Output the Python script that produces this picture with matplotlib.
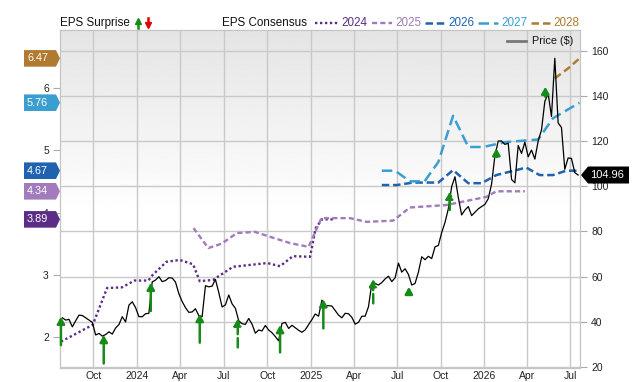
import matplotlib
matplotlib.use('Agg')
import matplotlib.pyplot as plt
import matplotlib.dates as mdates
import numpy as np
import pandas as pd
from matplotlib.lines import Line2D
from matplotlib.patches import Polygon

plt.rcParams['font.family'] = ['Liberation Sans', 'DejaVu Sans']

W, H = 640, 382

# weekly closing price ($)
price_start = '2023-07-28'
price = [41.8, 40.8, 41.1, 37.8, 40.5, 43.0, 42.8, 41.8, 40.8, 39.8,
         34.2, 34.9, 33.7, 34.4, 35.6, 34.6, 37.3, 38.8, 42.3, 40.0,
         47.4, 48.9, 46.3, 42.3, 42.3, 43.6, 43.8, 57.7, 58.5, 60.0,
         57.8, 58.3, 59.5, 59.4, 57.6, 52.5, 49.0, 46.3, 44.2, 44.4,
         45.8, 42.8, 42.3, 56.0, 55.5, 55.8, 58.8, 53.0, 46.6, 47.5,
         51.9, 48.0, 46.0, 40.5, 39.2, 38.9, 41.5, 39.0, 35.0, 36.4,
         36.0, 38.4, 36.4, 35.2, 33.5, 31.6, 39.3, 39.8, 37.1, 38.5,
         37.4, 36.3, 35.4, 36.5, 38.8, 41.0, 43.5, 42.5, 49.6, 47.0,
         47.2, 47.0, 45.0, 43.0, 41.8, 43.8, 43.6, 42.0, 39.0, 39.8,
         42.5, 42.5, 46.7, 57.0, 57.0, 56.3, 57.4, 59.0, 60.2, 57.8,
         59.5, 66.0, 62.0, 63.5, 61.0, 56.3, 57.0, 62.0, 68.8, 67.5,
         69.0, 68.0, 73.2, 73.8, 79.5, 84.0, 90.0, 99.8, 104.2, 95.0,
         87.3, 89.5, 91.0, 87.0, 88.5, 90.0, 91.0, 92.0, 94.5, 101.0,
         113.5, 120.0, 120.0, 118.5, 119.0, 103.0, 101.5, 118.0, 114.5, 119.5,
         113.0, 116.0, 112.0, 120.0, 124.9, 137.5, 141.0, 130.8, 156.6, 128.0,
         126.0, 107.5, 112.5, 112.3, 106.0, 104.96]

# EPS consensus by fiscal year
eps24_dates = ['2023-07-25', '2023-09-30', '2023-10-30', '2023-11-30', '2023-12-27',
               '2024-01-25', '2024-02-03', '2024-03-03', '2024-03-31', '2024-04-28',
               '2024-05-12', '2024-06-09', '2024-07-21', '2024-10-01', '2024-10-28',
               '2024-11-24', '2024-12-30', '2025-01-11', '2025-01-24', '2025-02-16']
eps24 = [1.93, 2.20, 2.79, 2.80, 2.91, 2.91, 3.00, 3.21, 3.24, 3.17,
         2.90, 2.92, 3.13, 3.19, 3.14, 3.30, 3.29, 3.75, 3.89, 3.89]

eps25_dates = ['2024-04-29', '2024-05-30', '2024-06-27', '2024-07-29', '2024-09-05',
               '2024-10-07', '2024-11-18', '2024-12-27', '2025-01-23', '2025-03-24',
               '2025-04-28', '2025-06-23', '2025-07-28', '2025-10-13', '2026-01-05',
               '2026-01-26', '2026-03-27']
eps25 = [3.75, 3.43, 3.50, 3.67, 3.69, 3.61, 3.51, 3.45, 3.91, 3.91,
         3.85, 3.87, 4.08, 4.12, 4.25, 4.34, 4.34]

eps26_dates = ['2025-05-30', '2025-06-30', '2025-08-04', '2025-09-26', '2025-10-27',
               '2025-11-28', '2025-12-26', '2026-01-26', '2026-03-30', '2026-04-27',
               '2026-05-25', '2026-06-22', '2026-07-20']
eps26 = [4.44, 4.44, 4.48, 4.48, 4.68, 4.47, 4.47, 4.60, 4.72, 4.60, 4.60, 4.67, 4.67]

eps27_dates = ['2025-05-30', '2025-06-27', '2025-07-28', '2025-08-28', '2025-09-26',
               '2025-10-27', '2025-11-28', '2025-12-29', '2026-02-16', '2026-04-24',
               '2026-05-25', '2026-07-20']
eps27 = [4.67, 4.67, 4.50, 4.50, 4.81, 5.55, 5.05, 5.05, 5.13, 5.17, 5.51, 5.76]

eps28_dates = ['2026-05-29', '2026-06-26', '2026-07-20']
eps28 = [6.15, 6.31, 6.47]

# EPS surprise arrows (price scale)
surprise_dates = ['2023-07-25', '2023-10-23', '2024-01-30', '2024-05-12', '2024-07-31',
                  '2024-10-28', '2025-01-27', '2025-05-12', '2025-07-26', '2025-10-20',
                  '2026-01-26', '2026-05-09']
surprise_from = [29.7, 21.6, 44.8, 30.8, 28.7, 26.5, 37.1, 48.2, 52.2, 89.5, 112.9, 139.6]
surprise_to = [42.3, 34.2, 57.3, 43.5, 41.5, 38.6, 50.0, 58.9, 55.5, 97.6, 116.8, 144.0]
surprise_dashed = [False, False, False, False, True, False, False, True, False, True, False, False]

years = ['2024', '2025', '2026', '2027', '2028']
year_colors = ['#5b2d86', '#a17bbb', '#1f62b0', '#3a9fd0', '#b07b2f']
year_dashes = [(1, 1.1), (2.2, 1.3), (3, 1.5), (4.2, 2), (3, 1.6)]
year_lw = [1.7, 1.7, 1.8, 1.8, 1.8]

def px(x, y):
    return x / W, 1 - y / H

fig = plt.figure(figsize=(W / 100, H / 100), dpi=100)
ax = fig.add_axes([60 / W, 1 - 368 / H, 520 / W, 338 / H])
ax2 = ax.twinx()

# background gradient
grad = np.ones((200, 1))
grad[:110, 0] = np.linspace(0.895, 1.0, 110)
ax.imshow(grad, extent=[0, 1, 0, 1], transform=ax.transAxes, aspect='auto',
          cmap='gray', vmin=0, vmax=1, zorder=0, interpolation='bilinear')

ax.grid(True, color='#c9c9c9', lw=1)
ax.set_axisbelow(True)

eps_series = [(eps24_dates, eps24), (eps25_dates, eps25), (eps26_dates, eps26),
              (eps27_dates, eps27), (eps28_dates, eps28)]
for (ds, vs), c, dsh, lw in zip(eps_series, year_colors, year_dashes, year_lw):
    ax2.plot(pd.to_datetime(ds), vs, color=c, lw=lw, dashes=dsh, zorder=3)

price_dates = pd.date_range(price_start, periods=len(price), freq='W-FRI')
ax2.plot(price_dates, price, color='black', lw=0.9, transform=ax.transData, zorder=4)

green = '#178a17'
for d, a, b, dashed in zip(pd.to_datetime(surprise_dates), surprise_from, surprise_to, surprise_dashed):
    xd = mdates.date2num(d)
    ax2.annotate('', xy=(xd, b), xytext=(xd, a), xycoords=ax.transData, textcoords=ax.transData,
                 arrowprops=dict(arrowstyle='-|>,head_length=0.5,head_width=0.28', color=green,
                                 lw=1.8, shrinkA=0, shrinkB=0, mutation_scale=8,
                                 linestyle='--' if dashed else '-'),
                 zorder=6, annotation_clip=False)

ax.set_xlim(pd.Timestamp('2023-07-23'), pd.Timestamp('2026-07-21'))
ax.set_ylim(19.6, 169.1)
ax2.set_ylim(1.508, 6.925)

ax.yaxis.tick_right()
ax2.yaxis.tick_left()
ax.set_yticks([20, 40, 60, 80, 100, 120, 140, 160])
ax2.set_yticks([2, 3, 4, 5, 6])
ax.tick_params(axis='y', length=5, color='#aaaaaa', labelsize=7.5, labelcolor='#222222', pad=3)
ax2.tick_params(axis='y', length=5, color='#aaaaaa', labelsize=7.5, labelcolor='#222222', pad=3)

ax.xaxis.set_major_locator(mdates.MonthLocator(bymonth=(1, 4, 7, 10)))
def month_fmt(x, pos):
    d = mdates.num2date(x)
    return str(d.year) if d.month == 1 else d.strftime('%b')
ax.xaxis.set_major_formatter(plt.FuncFormatter(month_fmt))
ax.tick_params(axis='x', length=0, pad=2, labelsize=7.5, labelcolor='#222222')

for a in (ax, ax2):
    for s in a.spines.values():
        s.set_color('#c4c4c4')

# left tags with latest consensus per year
inv = fig.transFigure.inverted()
for (ds, vs), c in zip(eps_series, year_colors):
    yd = ax2.transData.transform((0, vs[-1]))[1]
    yf = inv.transform((0, yd))[1]
    hh = 8.3 / H
    poly = Polygon([(24 / W, yf - hh), (56 / W, yf - hh), (60 / W, yf), (56 / W, yf + hh), (24 / W, yf + hh)],
                   closed=True, transform=fig.transFigure, facecolor=c, edgecolor='none', zorder=10)
    fig.add_artist(poly)
    fig.text(27 / W, yf, f'{vs[-1]:.2f}', color='white', fontsize=7.8, va='center', ha='left', zorder=11)

# last price tag
yd = ax.transData.transform((0, price[-1]))[1]
yf = inv.transform((0, yd))[1]
hh = 8.5 / H
poly = Polygon([(581 / W, yf), (588 / W, yf + hh), (629 / W, yf + hh), (629 / W, yf - hh), (588 / W, yf - hh)],
               closed=True, transform=fig.transFigure, facecolor='black', edgecolor='none', zorder=10)
fig.add_artist(poly)
fig.text(590 / W, yf, f'{price[-1]:.2f}', color='white', fontsize=8, va='center', ha='left', zorder=11)

# header legend
fig.text(*px(60, 23), 'EPS Surprise', fontsize=8.4, va='center', ha='left', color='#111111')
fig.add_artist(Line2D([137.5 / W, 137.5 / W], [1 - 28 / H, 1 - 22 / H], color=green, lw=1.8, transform=fig.transFigure))
fig.add_artist(Line2D([137.5 / W], [1 - 21 / H], marker='^', ms=5, color=green, transform=fig.transFigure))
fig.add_artist(Line2D([148 / W, 148 / W], [1 - 18 / H, 1 - 24 / H], color='#e00000', lw=1.8, transform=fig.transFigure))
fig.add_artist(Line2D([148 / W], [1 - 25 / H], marker='v', ms=5, color='#e00000', transform=fig.transFigure))

fig.text(*px(221.5, 23), 'EPS Consensus', fontsize=8.4, va='center', ha='left', color='#111111')
sample_x = [(315, 338), (372, 392), (425, 446), (478, 498), (531, 551)]
label_x = [341.5, 395, 448.5, 501, 553.5]
for (x0, x1), lx, yr, c, dsh, lw in zip(sample_x, label_x, years, year_colors, year_dashes, year_lw):
    fig.add_artist(Line2D([x0 / W, x1 / W], [1 - 23 / H, 1 - 23 / H], color=c, lw=lw, dashes=dsh,
                          transform=fig.transFigure))
    fig.text(*px(lx, 23), yr, fontsize=8.4, va='center', ha='left', color=c)

# price legend inside plot
fig.add_artist(Line2D([507 / W, 526 / W], [1 - 41 / H, 1 - 41 / H], color='#777777', lw=2, transform=fig.transFigure))
fig.text(*px(532.5, 41), 'Price ($)', fontsize=7.8, va='center', ha='left', color='#111111')

fig.savefig('out.png', dpi=100)
